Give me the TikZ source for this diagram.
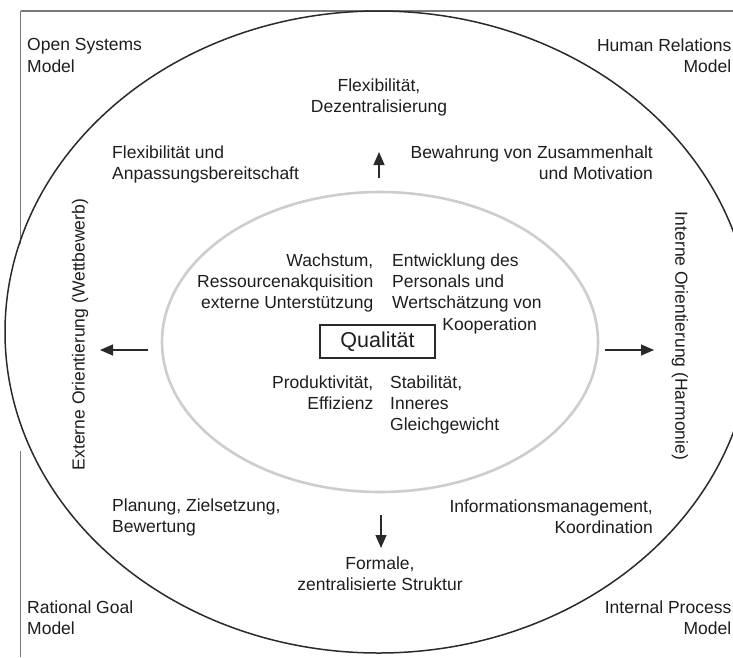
\documentclass[tikz,border=0pt]{standalone}
\usepackage{fontspec}
\setmainfont{Liberation Sans}
\usetikzlibrary{arrows.meta}
\definecolor{txt}{HTML}{1E1E1E}
\definecolor{frame}{HTML}{7A7A7A}
\definecolor{outerc}{HTML}{2A2A2A}
\definecolor{innerc}{HTML}{CDCDCD}
\tikzset{
  lbl/.style={inner sep=0pt, text=txt, font=\fontsize{17.5}{21.2}\selectfont},
  lblL/.style={lbl, align=left},
  lblR/.style={lbl, align=right},
  lblC/.style={lbl, align=center},
  arr/.style={draw=outerc, line width=1.3pt, -{Triangle[length=13pt,width=11pt]}},
  framel/.style={draw=frame, line width=1.3pt},
}
\begin{document}
\begin{tikzpicture}[x=1pt,y=-1pt]
\useasboundingbox (0,0) rectangle (733,657);
\clip (0,0) rectangle (733,657);
\fill[white] (0,0) rectangle (733,657);
% frame lines
\draw[framel] (20.5,11) -- (733,11);
\draw[framel] (20.5,11) -- (20.5,244);
\draw[framel] (20.5,451) -- (20.5,657);
% ellipses
\draw[draw=outerc, line width=1.5pt] (378.5,332) ellipse [x radius=373.5, y radius=321];
\draw[draw=innerc, line width=2.6pt] (380,342) ellipse [x radius=218, y radius=150];
% center box
\node[draw=outerc, line width=1.2pt, minimum width=115pt, minimum height=33pt, inner sep=0pt, text=txt, font=\fontsize{21.5}{25}\selectfont] (q) at (377.5,341.5) {Qualität};
% corner labels
\node[lblL, anchor=north west] (os) at (27,38.5) {Open Systems\\Model};
\node[lblR, anchor=north east] (hr) at (731.5,38.5) {Human Relations\\Model};
\node[lblL, anchor=north west] (rg) at (27,600.5) {Rational Goal\\Model};
\node[lblR, anchor=north east] (ip) at (731.5,600.5) {Internal Process\\Model};
% outer ring labels
\node[lblC, anchor=north] (fd) at (379,78.5) {Flexibilität,\\Dezentralisierung};
\node[lblL, anchor=north west] (fa) at (112,145.5) {Flexibilität und\\Anpassungsbereitschaft};
\node[lblR, anchor=north east] (bz) at (653,145.5) {Bewahrung von Zusammenhalt\\und Motivation};
\node[lblL, anchor=north west] (pz) at (112,498.5) {Planung, Zielsetzung,\\Bewertung};
\node[lblR, anchor=north east] (ik) at (653,499.5) {Informationsmanagement,\\Koordination};
\node[lblC, anchor=north] (fz) at (380,556.5) {Formale,\\zentralisierte Struktur};
% inner labels
\node[lblR, anchor=north east] (wr) at (373.5,253.5) {Wachstum,\\Ressourcenakquisition\\externe Unterstützung};
\node[lblL, anchor=north west] (ep) at (392,253.5) {Entwicklung des\\Personals und\\Wertschätzung von};
\node[lbl, anchor=north east] (ko) at (537,317.5) {Kooperation};
\node[lblR, anchor=north east] (pe) at (373.5,375.5) {Produktivität,\\Effizienz};
\node[lblL, anchor=north west] (si) at (390,375.5) {Stabilität,\\Inneres\\Gleichgewicht};
% side labels
\node[lbl, rotate=90] (ext) at (80,334.5) {Externe Orientierung (Wettbewerb)};
\node[lbl, rotate=-90] (int) at (680,336) {Interne Orientierung (Harmonie)};
% arrows
\coordinate (upS) at (379,178);
\coordinate (upE) at (379,152);
\coordinate (dnS) at (381,515);
\coordinate (dnE) at (381,548);
\coordinate (lfS) at (148,350);
\coordinate (lfE) at (100,350);
\coordinate (rtS) at (605,350);
\coordinate (rtE) at (654,350);
\draw[arr] (upS) -- (upE);
\draw[arr] (dnS) -- (dnE);
\draw[arr] (lfS) -- (lfE);
\draw[arr] (rtS) -- (rtE);
\end{tikzpicture}
\end{document}
